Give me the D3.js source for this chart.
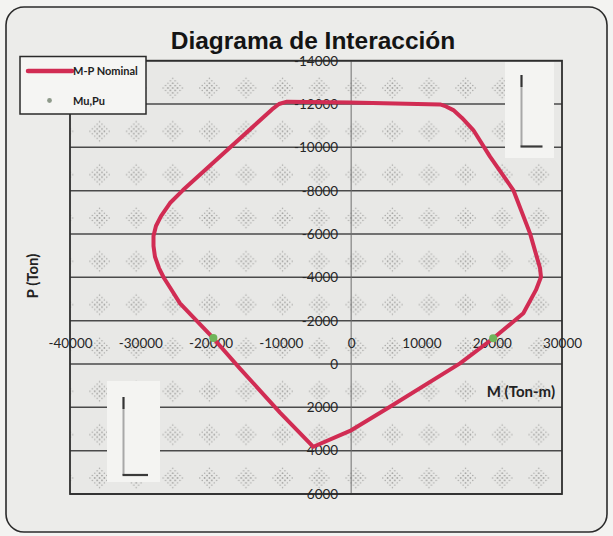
<!DOCTYPE html>
<html>
<head>
<meta charset="utf-8">
<script src="https://cdn.jsdelivr.net/npm/d3@7"></script>
<style>
  body { margin: 0; background: #f3f3f1; }
  svg { display: block; }
</style>
</head>
<body>
<div id="my_dataviz"></div>
<script>

// curve M-P nominal (M in Ton-m, P in Ton, compression negative)
var curveM = [12650, -150, -9130, -10260, -11260, -23920, -25770, -27050, -27770, -28120, -28120, -27910,
  -27340, -26630, -25770, -24350, -19610, -15810, -10120, -5380, -160, 5530, 15490, 20230, 24500,
  26300, 27010, 26870, 25450, 23070, 19760, 17380, 15770, 14540, 13500]
var curveP = [-11980, -12070, -12110, -12000, -11750, -8030, -7430, -6830, -6370, -5910, -5450, -4950,
  -4430, -3970, -3530, -2800, -1190, 210, 2240, 3820, 3090, 1970, -30, -1190, -2340,
  -3420, -4020, -4430, -6030, -8030, -9570, -10800, -11360, -11720, -11890]

// Mu,Pu
var loadM = [-19600, 20200]
var loadP = [-1200, -1190]

var xTicks = [-40000, -30000, -20000, -10000, 0, 10000, 20000, 30000]
var yTicks = [-14000, -12000, -10000, -8000, -6000, -4000, -2000, 0, 2000, 4000, 6000]

var width = 613
var height = 536
var plotLeft = 70, plotRight = 562, plotTop = 60.7, plotBottom = 494

var svg = d3.select("#my_dataviz")
  .append("svg")
  .attr("width", width)
  .attr("height", height)

var x = d3.scaleLinear()
  .domain([-40000, 30000])
  .range([plotLeft, plotRight])

var y = d3.scaleLinear()
  .domain([-14000, 6000])
  .range([plotTop, plotBottom])

// halftone dot pattern of the plot area
var defs = svg.append("defs")
var pat = defs.append("pattern")
  .attr("id", "dots")
  .attr("patternUnits", "userSpaceOnUse")
  .attr("width", 36.6)
  .attr("height", 43.33)
  .attr("x", plotLeft + 29.6 - 18.3)
  .attr("y", plotTop + 27.3 - 21.67)
pat.append("rect")
  .attr("width", 36.6)
  .attr("height", 43.33)
  .attr("fill", "#e8e8e6")
var cluster = []
for (var i = -4; i <= 4; i++) {
  for (var j = -4; j <= 4; j++) {
    if (Math.abs(i) + Math.abs(j) <= 4 && (i + j) % 2 == 0) cluster.push([i, j])
  }
}
pat.selectAll("circle")
  .data(cluster)
  .enter()
  .append("circle")
  .attr("cx", function (d) { return 18.3 + d[0] * 2.4 })
  .attr("cy", function (d) { return 21.67 + d[1] * 2.4 })
  .attr("r", function (d) { return Math.abs(d[0]) + Math.abs(d[1]) <= 2 ? 0.9 : 0.7 })
  .attr("fill", "#a3a3a1")

// outer chart area
svg.append("rect")
  .attr("x", 6)
  .attr("y", 7)
  .attr("width", 601)
  .attr("height", 525)
  .attr("rx", 18)
  .attr("fill", "#ececea")
  .attr("stroke", "#2b2b2b")
  .attr("stroke-width", 1.6)

svg.append("rect")
  .attr("x", plotLeft)
  .attr("y", plotTop)
  .attr("width", plotRight - plotLeft)
  .attr("height", plotBottom - plotTop)
  .attr("fill", "url(#dots)")

// gridlines
svg.append("g")
  .selectAll("line")
  .data(yTicks)
  .enter()
  .append("line")
  .attr("x1", plotLeft)
  .attr("x2", plotRight)
  .attr("y1", function (d) { return y(d) })
  .attr("y2", function (d) { return y(d) })
  .attr("stroke", "#4a4a4a")
  .attr("stroke-width", 1.5)

svg.append("line")
  .attr("x1", x(0))
  .attr("x2", x(0))
  .attr("y1", plotTop)
  .attr("y2", plotBottom)
  .attr("stroke", "#6d6d6d")
  .attr("stroke-width", 1)

svg.append("rect")
  .attr("x", plotLeft)
  .attr("y", plotTop)
  .attr("width", plotRight - plotLeft)
  .attr("height", plotBottom - plotTop)
  .attr("fill", "none")
  .attr("stroke", "#2e2e2e")
  .attr("stroke-width", 1.8)

// pasted L sketches
function sketch(bx, by, bw, bh, lx, ly1, ly2, lx2) {
  var g = svg.append("g")
  g.append("rect")
    .attr("x", bx).attr("y", by).attr("width", bw).attr("height", bh)
    .attr("fill", "#f4f4f2")
  g.append("line")
    .attr("x1", lx).attr("x2", lx).attr("y1", ly1).attr("y2", ly2)
    .attr("stroke", "#a8a8a8").attr("stroke-width", 2)
  g.append("line")
    .attr("x1", lx).attr("x2", lx).attr("y1", ly1).attr("y2", ly1 + 12)
    .attr("stroke", "#333").attr("stroke-width", 2)
  g.append("line")
    .attr("x1", lx - 1).attr("x2", lx2).attr("y1", ly2).attr("y2", ly2)
    .attr("stroke", "#3a3a3a").attr("stroke-width", 2.2)
}
sketch(505, 62, 49, 96, 521.5, 75, 146.5, 542.5)
sketch(107, 381, 53, 101, 123.5, 397, 475, 148)

// axes labels
var yAxis = d3.axisLeft(y)
  .tickValues(yTicks)
  .tickSize(0)
  .tickPadding(13)
  .tickFormat(function (d) { return String(d) })

svg.append("g")
  .attr("transform", "translate(" + x(0) + ",0)")
  .call(yAxis)
  .call(function (g) { g.select(".domain").remove() })
  .selectAll("text")
  .style("font-family", "Lato, 'Open Sans', sans-serif")
  .style("font-size", "13.5px")
  .attr("fill", "#262626")

var xAxis = d3.axisTop(x)
  .tickValues(xTicks)
  .tickSize(0)
  .tickPadding(16.5)
  .tickFormat(function (d) { return String(d) })

svg.append("g")
  .attr("transform", "translate(0," + y(0) + ")")
  .call(xAxis)
  .call(function (g) { g.select(".domain").remove() })
  .selectAll("text")
  .style("font-family", "Lato, 'Open Sans', sans-serif")
  .style("font-size", "13.5px")
  .attr("fill", "#262626")

// the curve
var pts = curveM.map(function (m, i) { return [m, curveP[i]] })

var line = d3.line()
  .x(function (d) { return x(d[0]) })
  .y(function (d) { return y(d[1]) })
  .curve(d3.curveLinearClosed)

svg.append("path")
  .datum(pts)
  .attr("d", line)
  .attr("fill", "none")
  .attr("stroke", "#d12c53")
  .attr("stroke-width", 4)
  .attr("stroke-linejoin", "round")

svg.append("g")
  .selectAll("circle")
  .data(loadM)
  .enter()
  .append("circle")
  .attr("cx", function (d) { return x(d) })
  .attr("cy", function (d, i) { return y(loadP[i]) })
  .attr("r", 4)
  .attr("fill", "#6fb55a")

// titles
svg.append("text")
  .attr("x", 313)
  .attr("y", 48.5)
  .attr("text-anchor", "middle")
  .style("font-family", "'Liberation Sans', Arial, sans-serif")
  .style("font-weight", "bold")
  .style("font-size", "24.5px")
  .attr("fill", "#141414")
  .text("Diagrama de Interacción")

svg.append("text")
  .attr("transform", "translate(38,276) rotate(-90)")
  .attr("text-anchor", "middle")
  .style("font-family", "Lato, sans-serif")
  .style("font-weight", "bold")
  .style("font-size", "15px")
  .attr("fill", "#222")
  .text("P (Ton)")

svg.append("text")
  .attr("x", 555)
  .attr("y", 397)
  .attr("text-anchor", "end")
  .style("font-family", "Lato, sans-serif")
  .style("font-weight", "bold")
  .style("font-size", "15px")
  .attr("fill", "#222")
  .text("M (Ton-m)")

// legend
var legend = svg.append("g")
legend.append("rect")
  .attr("x", 20)
  .attr("y", 56.5)
  .attr("width", 126)
  .attr("height", 57.5)
  .attr("fill", "#f5f5f3")
  .attr("stroke", "#2a2a2a")
  .attr("stroke-width", 1.5)
legend.append("line")
  .attr("x1", 28)
  .attr("x2", 72)
  .attr("y1", 71)
  .attr("y2", 71)
  .attr("stroke", "#d12c53")
  .attr("stroke-width", 4.5)
  .attr("stroke-linecap", "round")
legend.append("circle")
  .attr("cx", 49.5)
  .attr("cy", 100.5)
  .attr("r", 2.4)
  .attr("fill", "#8e9a8a")
legend.selectAll("text")
  .data(["M-P Nominal", "Mu,Pu"])
  .enter()
  .append("text")
  .attr("x", 73)
  .attr("y", function (d, i) { return i == 0 ? 75 : 104.5 })
  .style("font-family", "Lato, sans-serif")
  .style("font-weight", "bold")
  .style("font-size", "11px")
  .attr("fill", "#222")
  .text(function (d) { return d })

</script>
</body>
</html>
